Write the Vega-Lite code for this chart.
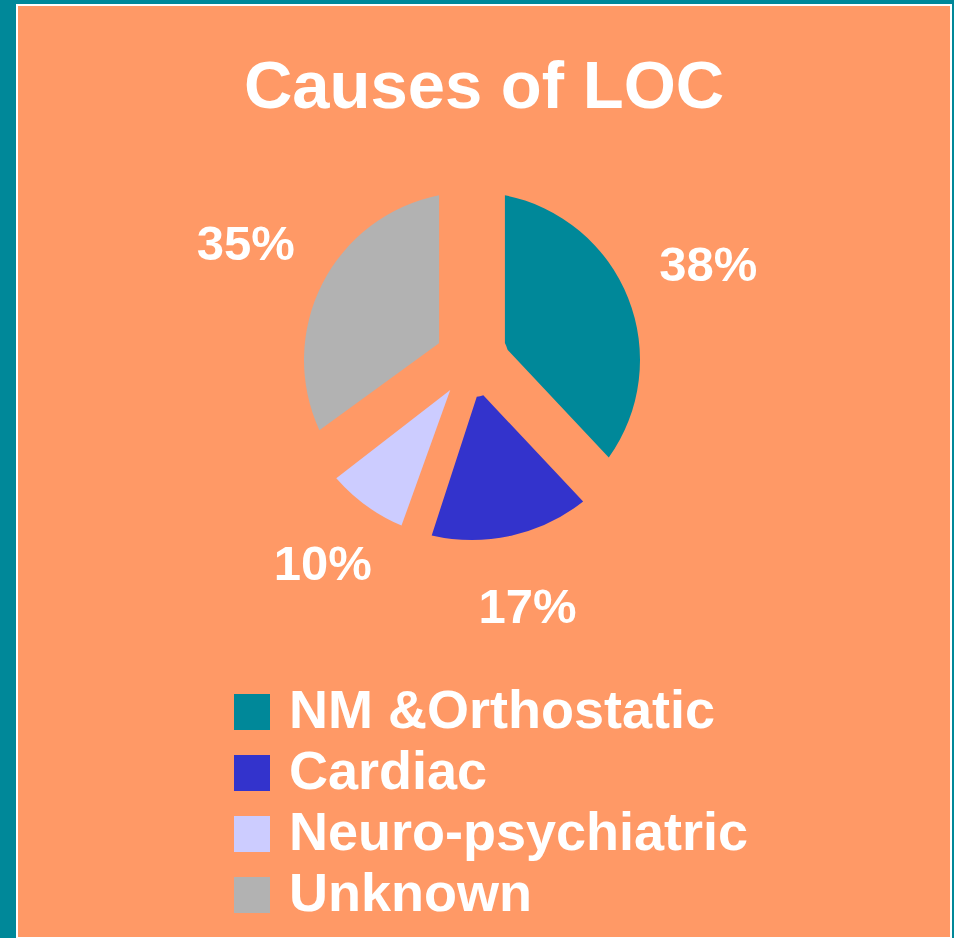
{
  "$schema": "https://vega.github.io/schema/vega-lite/v6.json",
  "width": 934,
  "height": 933,
  "autosize": {"type": "none"},
  "padding": {"left": 17, "top": 5, "right": 3, "bottom": 0},
  "background": "#008899",
  "view": {"fill": "#FF9966", "stroke": "#FFFFFF", "strokeWidth": 2},
  "config": {
    "view": {"fill": "#FF9966", "stroke": "#FFFFFF", "strokeWidth": 2},
    "legend": {
      "orient": "none",
      "legendX": 208,
      "legendY": 680,
      "padding": 0,
      "offset": 0,
      "direction": "vertical",
      "symbolType": "square",
      "symbolSize": 1296,
      "symbolStrokeWidth": 0,
      "labelFont": "Liberation Sans",
      "labelFontWeight": "bold",
      "labelFontSize": 54,
      "labelColor": "#FFFFFF",
      "labelOffset": 10,
      "labelLimit": 1000,
      "rowPadding": 7
    }
  },
  "title": {
    "text": "Causes of LOC",
    "font": "Liberation Sans",
    "fontSize": 67,
    "fontWeight": "bold",
    "color": "#FFFFFF",
    "anchor": "middle",
    "frame": "group",
    "orient": "top",
    "offset": 0,
    "baseline": "alphabetic",
    "dy": 170
  },
  "data": {
    "values": [
      {"cause": "NM &Orthostatic", "share": 0.38, "k": 1},
      {"cause": "Cardiac", "share": 0.17, "k": 2},
      {"cause": "Neuro-psychiatric", "share": 0.10, "k": 3},
      {"cause": "Unknown", "share": 0.35, "k": 4}
    ]
  },
  "encoding": {
    "theta": {"field": "share", "type": "quantitative", "stack": true},
    "order": {"field": "k", "type": "quantitative"}
  },
  "layer": [
    {
      "mark": {"type": "arc", "radius": 168, "radius2": 37, "padAngle": 0.385, "x": 455, "y": 355},
      "encoding": {
        "color": {
          "field": "cause",
          "type": "nominal",
          "sort": null,
          "scale": {
            "domain": ["NM &Orthostatic", "Cardiac", "Neuro-psychiatric", "Unknown"],
            "range": ["#008899", "#3333CC", "#CCCCFF", "#B2B2B2"]
          },
          "legend": {"title": null}
        },
        "opacity": {"condition": {"test": "datum.share > 0.3", "value": 1}, "value": 0}
      }
    },
    {
      "mark": {"type": "arc", "radius": 180, "radius2": 37, "padAngle": 0.173, "x": 455, "y": 355},
      "encoding": {
        "color": {
          "field": "cause",
          "type": "nominal",
          "sort": null,
          "scale": {
            "domain": ["NM &Orthostatic", "Cardiac", "Neuro-psychiatric", "Unknown"],
            "range": ["#008899", "#3333CC", "#CCCCFF", "#B2B2B2"]
          },
          "legend": {"title": null}
        },
        "opacity": {"condition": {"test": "datum.share > 0.3", "value": 0}, "value": 1}
      }
    },
    {
      "mark": {
        "type": "text",
        "radius": 254,
        "x": 455,
        "y": 355,
        "font": "Liberation Sans",
        "fontSize": 49,
        "fontWeight": "bold",
        "fill": "#FFFFFF",
        "align": "center",
        "baseline": "middle"
      },
      "encoding": {
        "text": {"field": "share", "type": "quantitative", "format": ".0%"}
      }
    }
  ]
}
